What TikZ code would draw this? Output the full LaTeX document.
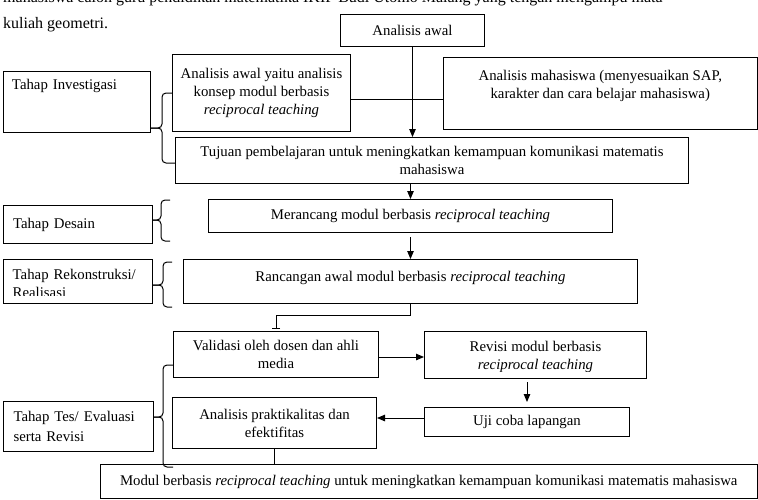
\documentclass[tikz,border=0pt]{standalone}
\usepackage{fontspec}
\setmainfont{Liberation Serif}
\usetikzlibrary{arrows.meta}

\begin{document}
\begin{tikzpicture}[x=1pt, y=-1pt,
  kotak/.style={draw, line width=1pt, inner sep=1pt, align=center, font=\fontsize{14.8}{18}\selectfont},
  tahap/.style={kotak, align=left, text width=130pt},
  teks/.style={inner sep=0pt, font=\fontsize{14.8}{18}\selectfont},
  panah/.style={line width=1pt, -{Triangle[length=8pt,width=6.5pt]}},
  garis/.style={line width=1pt},
  kurung/.style={line width=1pt, rounded corners=4pt}]
\useasboundingbox (0,0) rectangle (758,499);

\node[teks, anchor=base west, font=\fontsize{16}{24}\selectfont] (par1) at (3,2) {mahasiswa calon guru pendidikan matematika IKIP Budi Utomo Malang yang tengah mengampu mata};
\node[teks, anchor=base west, font=\fontsize{16}{24}\selectfont] (par2) at (3,28) {kuliah geometri.};

\node[kotak, anchor=north west, minimum width=144pt, minimum height=32pt] (awal) at (340,14) {Analisis awal};
\node[kotak, anchor=north west, minimum width=178pt, minimum height=77pt] (konsep) at (172,54) {Analisis awal yaitu analisis\\konsep modul berbasis\\\textit{reciprocal teaching}};
\node[kotak, anchor=north west, minimum width=313.5pt, minimum height=72pt] (mhs) at (443,57) {Analisis mahasiswa (menyesuaikan SAP,\\karakter dan cara belajar mahasiswa)\\\mbox{}};
\node[kotak, anchor=north west, minimum width=513pt, minimum height=46pt] (tujuan) at (175,137) {Tujuan pembelajaran untuk meningkatkan kemampuan komunikasi matematis\\mahasiswa};
\node[kotak, anchor=north west, minimum width=404pt, minimum height=33pt] (merancang) at (208,199) {Merancang modul berbasis \textit{reciprocal teaching}};
\node[kotak, anchor=north west, minimum width=454pt, minimum height=44pt, text depth=11pt] (rancangan) at (183,259) {Rancangan awal modul berbasis \textit{reciprocal teaching}};
\node[kotak, anchor=north west, minimum width=205pt, minimum height=46pt] (valid) at (173,331) {Validasi oleh dosen dan ahli\\media};
\node[kotak, anchor=north west, minimum width=222pt, minimum height=47pt] (revisi) at (424,331) {};
\node[kotak, anchor=north west, minimum width=205pt, minimum height=29pt] (uji) at (424,407) {Uji coba lapangan};
\node[kotak, anchor=north west, minimum width=204pt, minimum height=51pt] (praktik) at (172,397) {Analisis praktikalitas dan\\efektifitas};
\node[kotak, anchor=north west, minimum width=656.5pt, minimum height=34pt] (modul) at (100,464) {Modul berbasis \textit{reciprocal teaching} untuk meningkatkan kemampuan komunikasi matematis mahasiswa};

\node[tahap, anchor=north west, minimum width=147pt, minimum height=61pt] (inv) at (3,71) {Tahap Investigasi\\\mbox{}\\\mbox{}};
\node[tahap, anchor=north west, minimum width=149pt, minimum height=38pt] (desain) at (3,205) {Tahap Desain};
\node[tahap, anchor=north west, minimum width=149pt, minimum height=44pt] (rekon) at (3,259) {};
\node[tahap, anchor=north west, minimum width=150pt, minimum height=50pt, font=\fontsize{14.8}{20}\selectfont] (tes) at (3,401) {Tahap Tes/ Evaluasi\\serta Revisi};

\begin{scope}
\clip (rekon.north west) rectangle ([yshift=9pt]rekon.south east);
\node[teks, align=left, text width=130pt, anchor=north west] (rekonteks) at (12.5,269) {Tahap Rekonstruksi/\\Realisasi};
\end{scope}
\begin{scope}
\clip (revisi.north west) rectangle ([yshift=8pt]revisi.south east);
\node[teks, align=center, yshift=-2pt] (revisiteks) at (revisi.center) {Revisi modul berbasis\\\textit{reciprocal teaching}};
\end{scope}

\draw[panah] (awal.south) -- (awal.south |- tujuan.north);
\draw[garis] ([yshift=-6.5pt]konsep.east) -- ([yshift=-6.5pt]konsep.east -| mhs.west);
\draw[panah] (merancang.north |- tujuan.south) -- (merancang.north);
\draw[panah] ([yshift=-4pt]merancang.south) -- (rancangan.north);
\draw[line width=1pt, -{Bar[width=8pt]}] (rancangan.south) -- ++(0,11) -| ([yshift=2pt]valid.north);
\draw[panah] (valid.east |- 0,357) -- (revisi.west |- 0,357);
\draw[panah] ([yshift=-3pt]revisi.south -| uji.north) -- ([yshift=5pt]uji.north);
\draw[panah] (uji.west |- 0,418) -- (praktik.east |- 0,418);
\draw[garis] (praktik.south) -- (praktik.south |- modul.north);

\draw[kurung] (172,93) -- (162,93) -- (162,128) -- (151,128);
\draw[kurung] (151,128) -- (162,128) -- (162,163) -- (175,163);
\draw[kurung] (170,200) -- (161,200) -- (161,220) -- (152,220);
\draw[kurung] (152,220) -- (161,220) -- (161,241) -- (170,241);
\draw[kurung] (172,262) -- (163,262) -- (163,285) -- (152,285);
\draw[kurung] (152,285) -- (163,285) -- (163,307) -- (172,307);
\draw[kurung] (173,365) -- (163,365) -- (163,417) -- (153,417);
\draw[kurung] (153,417) -- (163,417) -- (163,467) -- (173,467);
\end{tikzpicture}
\end{document}
